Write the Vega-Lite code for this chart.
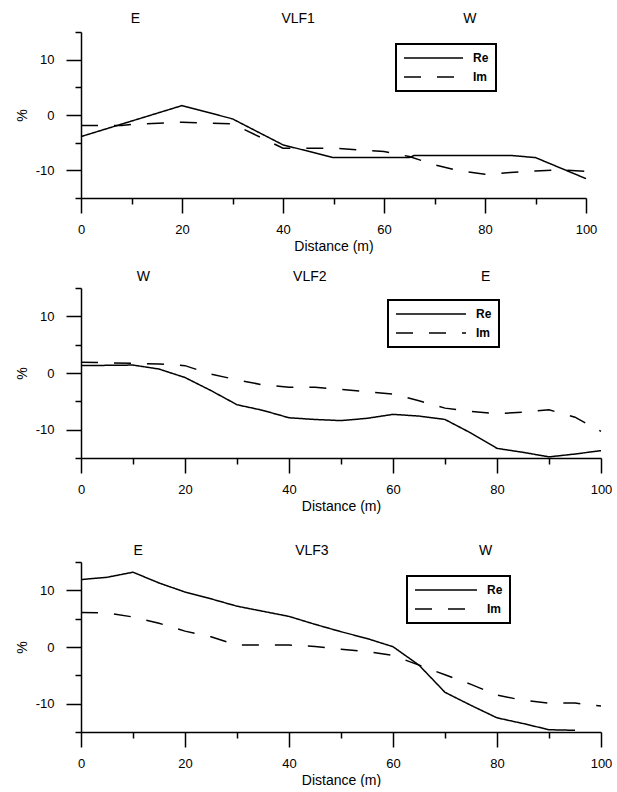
{
  "$schema": "https://vega.github.io/schema/vega-lite/v6.json",
  "padding": {"left": 15, "top": 11, "right": 0, "bottom": 0},
  "background": "white",
  "config": {
    "view": {"stroke": null},
    "font": "Liberation Sans",
    "axis": {
      "grid": false,
      "domainColor": "black",
      "domainWidth": 1.5,
      "tickColor": "black",
      "tickWidth": 1.5,
      "tickSize": 15,
      "tickCount": 30,
      "labelColor": "black",
      "labelFont": "Liberation Sans",
      "labelFontSize": 13,
      "titleColor": "black",
      "titleFont": "Liberation Sans",
      "titleFontSize": 14,
      "titleFontWeight": "normal"
    },
    "axisX": {"labelPadding": 10, "titlePadding": 3, "labelFlush": false, "labelOverlap": false},
    "axisY": {"labelPadding": 12, "titlePadding": 6, "labelOverlap": false},
    "legend": {
      "strokeColor": "black",
      "strokeWidth": 2,
      "padding": 7,
      "clipHeight": 14,
      "symbolType": "stroke",
      "symbolStrokeWidth": 1.5,
      "symbolStrokeColor": "black",
      "labelFont": "Liberation Sans",
      "labelFontSize": 12,
      "labelFontWeight": "bold",
      "labelColor": "black",
      "labelOffset": 9,
      "rowPadding": 5
    }
  },
  "datasets": {
    "p1": [
      {"x": 0, "c": "Re", "v": -3.9}, {"x": 10, "c": "Re", "v": -1.1}, {"x": 20, "c": "Re", "v": 1.7},
      {"x": 30, "c": "Re", "v": -0.7}, {"x": 40, "c": "Re", "v": -5.4}, {"x": 50, "c": "Re", "v": -7.7},
      {"x": 65, "c": "Re", "v": -7.7}, {"x": 66, "c": "Re", "v": -7.3}, {"x": 85, "c": "Re", "v": -7.3},
      {"x": 90, "c": "Re", "v": -7.7}, {"x": 100, "c": "Re", "v": -11.5},
      {"x": 0, "c": "Im", "v": -1.9}, {"x": 8, "c": "Im", "v": -1.9}, {"x": 10, "c": "Im", "v": -1.7},
      {"x": 20, "c": "Im", "v": -1.3}, {"x": 30, "c": "Im", "v": -1.6}, {"x": 40, "c": "Im", "v": -6.0},
      {"x": 50, "c": "Im", "v": -6.0}, {"x": 60, "c": "Im", "v": -6.6}, {"x": 65, "c": "Im", "v": -7.5},
      {"x": 70, "c": "Im", "v": -9.0}, {"x": 75, "c": "Im", "v": -10.1}, {"x": 80, "c": "Im", "v": -10.7},
      {"x": 85, "c": "Im", "v": -10.4}, {"x": 90, "c": "Im", "v": -10.1}, {"x": 95, "c": "Im", "v": -9.9},
      {"x": 100, "c": "Im", "v": -10.2}
    ],
    "p2": [
      {"x": 0, "c": "Re", "v": 1.3}, {"x": 10, "c": "Re", "v": 1.4}, {"x": 15, "c": "Re", "v": 0.7},
      {"x": 20, "c": "Re", "v": -0.8}, {"x": 25, "c": "Re", "v": -3.1}, {"x": 30, "c": "Re", "v": -5.6},
      {"x": 35, "c": "Re", "v": -6.6}, {"x": 40, "c": "Re", "v": -7.9}, {"x": 45, "c": "Re", "v": -8.2},
      {"x": 50, "c": "Re", "v": -8.4}, {"x": 55, "c": "Re", "v": -8.0}, {"x": 60, "c": "Re", "v": -7.3},
      {"x": 65, "c": "Re", "v": -7.6}, {"x": 70, "c": "Re", "v": -8.2}, {"x": 75, "c": "Re", "v": -10.6},
      {"x": 80, "c": "Re", "v": -13.3}, {"x": 85, "c": "Re", "v": -14.0}, {"x": 90, "c": "Re", "v": -14.8},
      {"x": 95, "c": "Re", "v": -14.3}, {"x": 100, "c": "Re", "v": -13.7},
      {"x": 0, "c": "Im", "v": 1.9}, {"x": 10, "c": "Im", "v": 1.7}, {"x": 15, "c": "Im", "v": 1.6},
      {"x": 20, "c": "Im", "v": 1.3}, {"x": 25, "c": "Im", "v": -0.2}, {"x": 30, "c": "Im", "v": -1.2},
      {"x": 35, "c": "Im", "v": -2.1}, {"x": 40, "c": "Im", "v": -2.5}, {"x": 45, "c": "Im", "v": -2.5},
      {"x": 50, "c": "Im", "v": -2.9}, {"x": 55, "c": "Im", "v": -3.3}, {"x": 60, "c": "Im", "v": -3.7},
      {"x": 65, "c": "Im", "v": -4.9}, {"x": 70, "c": "Im", "v": -6.2}, {"x": 75, "c": "Im", "v": -6.8},
      {"x": 80, "c": "Im", "v": -7.2}, {"x": 85, "c": "Im", "v": -6.9}, {"x": 90, "c": "Im", "v": -6.5},
      {"x": 95, "c": "Im", "v": -7.8}, {"x": 100, "c": "Im", "v": -10.3}
    ],
    "p3": [
      {"x": 0, "c": "Re", "v": 11.9}, {"x": 5, "c": "Re", "v": 12.3}, {"x": 10, "c": "Re", "v": 13.2},
      {"x": 15, "c": "Re", "v": 11.3}, {"x": 20, "c": "Re", "v": 9.7}, {"x": 25, "c": "Re", "v": 8.5},
      {"x": 30, "c": "Re", "v": 7.2}, {"x": 35, "c": "Re", "v": 6.3}, {"x": 40, "c": "Re", "v": 5.4},
      {"x": 45, "c": "Re", "v": 4.0}, {"x": 50, "c": "Re", "v": 2.7}, {"x": 55, "c": "Re", "v": 1.5},
      {"x": 60, "c": "Re", "v": 0.05}, {"x": 65, "c": "Re", "v": -3.2}, {"x": 70, "c": "Re", "v": -8.0},
      {"x": 75, "c": "Re", "v": -10.3}, {"x": 80, "c": "Re", "v": -12.5}, {"x": 85, "c": "Re", "v": -13.5},
      {"x": 90, "c": "Re", "v": -14.6}, {"x": 95, "c": "Re", "v": -14.7},
      {"x": 0, "c": "Im", "v": 6.1}, {"x": 5, "c": "Im", "v": 6.0}, {"x": 10, "c": "Im", "v": 5.3},
      {"x": 15, "c": "Im", "v": 4.2}, {"x": 20, "c": "Im", "v": 2.8}, {"x": 25, "c": "Im", "v": 1.8},
      {"x": 30, "c": "Im", "v": 0.35}, {"x": 35, "c": "Im", "v": 0.35}, {"x": 40, "c": "Im", "v": 0.35},
      {"x": 45, "c": "Im", "v": 0.1}, {"x": 50, "c": "Im", "v": -0.4}, {"x": 55, "c": "Im", "v": -0.8},
      {"x": 60, "c": "Im", "v": -1.5}, {"x": 65, "c": "Im", "v": -3.2}, {"x": 70, "c": "Im", "v": -4.9},
      {"x": 75, "c": "Im", "v": -6.6}, {"x": 80, "c": "Im", "v": -8.5}, {"x": 85, "c": "Im", "v": -9.4},
      {"x": 90, "c": "Im", "v": -9.9}, {"x": 95, "c": "Im", "v": -9.9}, {"x": 100, "c": "Im", "v": -10.4}
    ],
    "t1": [{"x": 10.8, "label": "E"}, {"x": 43, "label": "VLF1"}, {"x": 77, "label": "W"}],
    "t2": [{"x": 12, "label": "W"}, {"x": 44, "label": "VLF2"}, {"x": 77.8, "label": "E"}],
    "t3": [{"x": 11, "label": "E"}, {"x": 44.4, "label": "VLF3"}, {"x": 77.8, "label": "W"}]
  },
  "spacing": 16,
  "resolve": {"legend": {"strokeDash": "independent"}},
  "vconcat": [
    {
      "width": 505,
      "height": 166,
      "resolve": {"axis": {"x": "independent", "y": "independent"}},
      "layer": [
        {
          "data": {"name": "p1"},
          "mark": {"type": "line", "color": "black", "strokeWidth": 1.5},
          "encoding": {
            "x": {"field": "x", "type": "quantitative", "scale": {"domain": [0, 100], "nice": false},
              "axis": {"orient": "bottom", "values": [0, 20, 40, 60, 80, 100], "title": "Distance (m)"}},
            "y": {"field": "v", "type": "quantitative", "scale": {"domain": [-15, 15], "nice": false},
              "axis": {"orient": "left", "values": [-10, 0, 10], "labelExpr": "replace(datum.label, '\u2212', '-')", "title": "%"}},
            "strokeDash": {"field": "c", "type": "nominal", "scale": {"domain": ["Re", "Im"], "range": [[1, 0], [17, 16]]},
              "legend": {"orient": "none", "legendX": 315, "legendY": 12, "title": null, "symbolSize": 3481}}
          }
        },
        {
          "data": {"name": "t1"},
          "mark": {"type": "text", "fontSize": 14, "baseline": "middle", "color": "black"},
          "encoding": {
            "x": {"field": "x", "type": "quantitative",
              "axis": {"orient": "bottom", "values": [10, 30, 50, 70, 90], "tickSize": 6, "labels": false, "domain": false, "title": null}},
            "y": {"datum": 17.4, "type": "quantitative",
              "axis": {"orient": "left", "values": [-15, -5, 5, 15], "tickSize": 6, "labels": false, "domain": false, "title": null}},
            "text": {"field": "label"}
          }
        }
      ]
    },
    {
      "spacing": 30,
      "resolve": {"legend": {"strokeDash": "independent"}},
      "vconcat": [
        {
          "width": 520,
          "height": 170,
          "resolve": {"axis": {"x": "independent", "y": "independent"}},
          "layer": [
            {
              "data": {"name": "p2"},
              "mark": {"type": "line", "color": "black", "strokeWidth": 1.5},
              "encoding": {
                "x": {"field": "x", "type": "quantitative", "scale": {"domain": [0, 100], "nice": false},
                  "axis": {"orient": "bottom", "values": [0, 20, 40, 60, 80, 100], "title": "Distance (m)"}},
                "y": {"field": "v", "type": "quantitative", "scale": {"domain": [-15, 15], "nice": false},
                  "axis": {"orient": "left", "values": [-10, 0, 10], "labelExpr": "replace(datum.label, '\u2212', '-')", "title": "%"}},
                "strokeDash": {"field": "c", "type": "nominal", "scale": {"domain": ["Re", "Im"], "range": [[1, 0], [17, 16]]},
                  "legend": {"orient": "none", "legendX": 307, "legendY": 12, "title": null, "symbolSize": 4900}}
              }
            },
            {
              "data": {"name": "t2"},
              "mark": {"type": "text", "fontSize": 14, "baseline": "middle", "color": "black"},
              "encoding": {
                "x": {"field": "x", "type": "quantitative",
                  "axis": {"orient": "bottom", "values": [10, 30, 50, 70, 90], "tickSize": 6, "labels": false, "domain": false, "title": null}},
                "y": {"datum": 17.0, "type": "quantitative",
                  "axis": {"orient": "left", "values": [-15, -5, 5, 15], "tickSize": 6, "labels": false, "domain": false, "title": null}},
                "text": {"field": "label"}
              }
            }
          ]
        },
        {
          "width": 520,
          "height": 170,
          "resolve": {"axis": {"x": "independent", "y": "independent"}},
          "layer": [
            {
              "data": {"name": "p3"},
              "mark": {"type": "line", "color": "black", "strokeWidth": 1.5},
              "encoding": {
                "x": {"field": "x", "type": "quantitative", "scale": {"domain": [0, 100], "nice": false},
                  "axis": {"orient": "bottom", "values": [0, 20, 40, 60, 80, 100], "title": "Distance (m)"}},
                "y": {"field": "v", "type": "quantitative", "scale": {"domain": [-15, 15], "nice": false},
                  "axis": {"orient": "left", "values": [-10, 0, 10], "labelExpr": "replace(datum.label, '\u2212', '-')", "title": "%"}},
                "strokeDash": {"field": "c", "type": "nominal", "scale": {"domain": ["Re", "Im"], "range": [[1, 0], [17, 16]]},
                  "legend": {"orient": "none", "legendX": 326, "legendY": 14, "title": null, "symbolSize": 3844}}
              }
            },
            {
              "data": {"name": "t3"},
              "mark": {"type": "text", "fontSize": 14, "baseline": "middle", "color": "black"},
              "encoding": {
                "x": {"field": "x", "type": "quantitative",
                  "axis": {"orient": "bottom", "values": [10, 30, 50, 70, 90], "tickSize": 6, "labels": false, "domain": false, "title": null}},
                "y": {"datum": 17.0, "type": "quantitative",
                  "axis": {"orient": "left", "values": [-15, -5, 5, 15], "tickSize": 6, "labels": false, "domain": false, "title": null}},
                "text": {"field": "label"}
              }
            }
          ]
        }
      ]
    }
  ]
}
